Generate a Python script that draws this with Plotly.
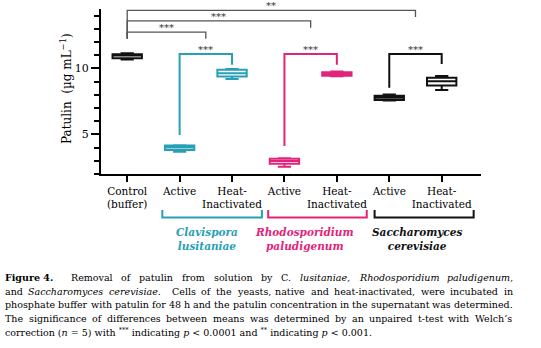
import re
import plotly.graph_objects as go

# ---- data -------------------------------------------------------------
categories = ["Control<br>(buffer)", "Active", "Heat-<br>Inactivated",
              "Active", "Heat-<br>Inactivated", "Active", "Heat-<br>Inactivated"]
q1 = [10.77, 3.81, 9.38, 2.78, 9.45, 7.61, 8.70]
median = [10.97, 4.00, 9.63, 2.98, 9.58, 7.78, 9.03]
q3 = [11.08, 4.15, 9.89, 3.16, 9.71, 7.92, 9.30]
lower = [10.67, 3.68, 9.20, 2.55, 9.40, 7.56, 8.37]
upper = [11.15, 4.18, 9.95, 3.20, 9.76, 8.02, 9.43]

TEAL = "#27a0b6"
PINK = "#e3237a"
BLACK = "#111111"
box_colors = [BLACK, TEAL, TEAL, PINK, PINK, BLACK, BLACK]

# yeast groups below the axis
group_names = ["Clavispora<br>lusitaniae", "Rhodosporidium<br>paludigenum",
               "Saccharomyces<br>cerevisiae"]
group_x0 = [0.67, 2.69, 4.72]
group_x1 = [2.57, 4.57, 6.61]
group_label_x = [1.53, 3.38, 5.53]
group_colors = [TEAL, PINK, BLACK]

# significance brackets
br_x0 = [0, 0, 0, 1, 3, 5]
br_x1 = [5.5, 3.5, 1.5, 2, 4, 6]
br_top = [14.4, 13.6, 12.75, 11.1, 11.1, 11.1]
br_left_end = [12.25, 12.25, 12.25, 4.95, 4.13, 8.54]
br_right_end = [13.9, 13.08, 12.24, 10.27, 10.27, 10.34]
br_label = ["**", "***", "***", "***", "***", "***"]
br_color = ["#555555", "#555555", "#555555", TEAL, PINK, BLACK]
br_width = [1.3, 1.3, 1.3, 2, 2, 2]

caption_lines = [
    ["<b>Figure 4.</b>", "", "Removal", "of", "patulin", "from", "solution", "by", "C.",
     "<i>lusitaniae,</i>", "<i>Rhodosporidium</i>", "<i>paludigenum,</i>"],
    ["and", "<i>Saccharomyces</i>", "<i>cerevisiae</i>.", "", "Cells", "of", "the", "yeasts,",
     "native", "and", "heat-inactivated,", "were", "incubated", "in"],
    ["phosphate", "buffer", "with", "patulin", "for", "48", "h", "and", "the", "patulin",
     "concentration", "in", "the", "supernatant", "was", "determined."],
    ["The", "significance", "of", "differences", "between", "means", "was", "determined",
     "by", "an", "unpaired", "t-test", "with", "Welch\u2019s"],
]
caption_last = ("correction (<i>n</i> = 5) with <sup>***</sup> indicating <i>p</i> &lt; 0.0001 "
                "and <sup>**</sup> indicating <i>p</i> &lt; 0.001.")

# ---- figure geometry ----------------------------------------------------
W, H = 541, 348
ML, MR, MT, MB = 101, 60, 9, 174
PW, PH = W - ML - MR, H - MT - MB
SERIF = "DejaVu Serif"


def px_x(px):
    return (px - ML) / PW


def px_y(py):
    return (H - MB - py) / PH


fig = go.Figure()

for i in range(len(categories)):
    fig.add_trace(go.Box(
        x=[i], q1=[q1[i]], median=[median[i]], q3=[q3[i]],
        lowerfence=[lower[i]], upperfence=[upper[i]],
        width=0.56, whiskerwidth=0.45,
        line=dict(color=box_colors[i], width=2), fillcolor="white",
        boxpoints=False, showlegend=False, hoverinfo="skip"))

shapes = []
annotations = []

# significance brackets with stars
for x0, x1, top, le, re_, lab, col, lw in zip(br_x0, br_x1, br_top, br_left_end,
                                               br_right_end, br_label, br_color, br_width):
    shapes.append(dict(type="path", xref="x", yref="y",
                       path=f"M {x0},{le} L {x0},{top} L {x1},{top} L {x1},{re_}",
                       line=dict(color=col, width=lw)))
    annotations.append(dict(x=(x0 + x1) / 2, y=top, xref="x", yref="y", text=lab,
                            showarrow=False, yanchor="bottom", yshift=-3,
                            font=dict(family=SERIF, size=10, color="#333333")))

# group brackets and species names under the categories
for x0, x1, lx, name, col in zip(group_x0, group_x1, group_label_x, group_names, group_colors):
    ya, yb = px_y(210), px_y(217.5)
    shapes.append(dict(type="path", xref="x", yref="paper",
                       path=f"M {x0},{ya} L {x0},{yb} L {x1},{yb} L {x1},{ya}",
                       line=dict(color=col, width=2)))
    annotations.append(dict(x=lx, y=px_y(239), xref="x", yref="paper",
                            text="<b><i>" + name.replace("<br>", "</i></b><br><b><i>") + "</i></b>",
                            showarrow=False, xanchor="center", yanchor="middle",
                            font=dict(family=SERIF, size=10.5, color=col)))

# y-axis title
annotations.append(dict(x=px_x(66), y=px_y(89), xref="paper", yref="paper",
                        text="Patulin  (\u00b5g mL<sup>\u22121</sup>)", textangle=-90,
                        showarrow=False, xanchor="center", yanchor="middle",
                        font=dict(family=SERIF, size=12, color="black")))

# ---- justified caption ----------------------------------------------------
# approximate advance widths of DejaVu Serif, in em
DJV = {" ": .318, "(": .390, ")": .390, "*": .500, ",": .318, "-": .339, ".": .318,
       "<": .838, "=": .838, "\u2019": .318,
       "A": .722, "C": .734, "F": .683, "H": .872, "I": .420, "R": .726, "S": .650,
       "T": .673, "W": 1.03,
       "a": .596, "b": .640, "c": .560, "d": .640, "e": .592, "f": .370, "g": .640,
       "h": .644, "i": .320, "j": .310, "k": .606, "l": .320, "m": .948, "n": .644,
       "o": .602, "p": .640, "q": .640, "r": .478, "s": .513, "t": .402, "u": .644,
       "v": .565, "w": .856, "x": .564, "y": .565, "z": .527}
CAP_LEFT, CAP_RIGHT = 3, 511
cap_y = [277.5, 291, 304.5, 318, 331.5]


def em_width(t):
    bold = "<b>" in t
    plain = re.sub(r"<[^>]+>", "", t).replace("&lt;", "<")
    w = sum(DJV.get(c, .636) for c in plain)
    return w * (1.1 if bold else 1.0)


# font size chosen so the longest line fits the column with ordinary spaces
line_em = [sum(em_width(w) for w in ln if w) + DJV[" "] * (len([w for w in ln if w]) - 1)
           for ln in caption_lines]
CAP_SIZE = round((CAP_RIGHT - CAP_LEFT) / max(line_em), 2)

for line, py in zip(caption_lines, cap_y):
    words = [w for w in line if w]
    # an empty token marks a double-width gap
    gap_weights = []
    for k in range(1, len(line)):
        if line[k] == "":
            continue
        gap_weights.append(2 if line[k - 1] == "" else 1)
    total = sum(em_width(w) * CAP_SIZE for w in words)
    unit = (CAP_RIGHT - CAP_LEFT - total) / sum(gap_weights)
    x = CAP_LEFT
    for j, w in enumerate(words):
        annotations.append(dict(x=px_x(x), y=px_y(py), xref="paper", yref="paper",
                                text=w, showarrow=False, xanchor="left", yanchor="middle",
                                font=dict(family=SERIF, size=CAP_SIZE, color="black")))
        x += em_width(w) * CAP_SIZE
        if j < len(gap_weights):
            x += unit * gap_weights[j]

annotations.append(dict(x=px_x(CAP_LEFT), y=px_y(cap_y[4]), xref="paper", yref="paper",
                        text=caption_last, showarrow=False, xanchor="left", yanchor="middle",
                        font=dict(family=SERIF, size=CAP_SIZE, color="black")))

fig.update_layout(
    width=W, height=H, margin=dict(l=ML, r=MR, t=MT, b=MB),
    paper_bgcolor="white", plot_bgcolor="white",
    shapes=shapes, annotations=annotations, showlegend=False,
    font=dict(family=SERIF, size=10.5, color="black"),
    xaxis=dict(range=[-0.5, 6.75], tickvals=list(range(len(categories))),
               ticktext=categories, showline=True, linewidth=2, linecolor="black",
               ticks="outside", ticklen=6, tickwidth=2, tickcolor="black",
               showgrid=False, zeroline=False, fixedrange=True,
               tickfont=dict(family=SERIF, size=10.5, color="black")),
    yaxis=dict(range=[2, 14.5], tickvals=[5, 10], showline=True, linewidth=2,
               linecolor="black", ticks="outside", ticklen=8, tickwidth=2,
               tickcolor="black", showgrid=False, zeroline=False,
               minor=dict(dtick=1, tick0=0, ticks="outside", ticklen=5, tickwidth=2,
                          tickcolor="black", showgrid=False),
               tickfont=dict(family=SERIF, size=11, color="black")),
)

fig.write_html("out.html")
